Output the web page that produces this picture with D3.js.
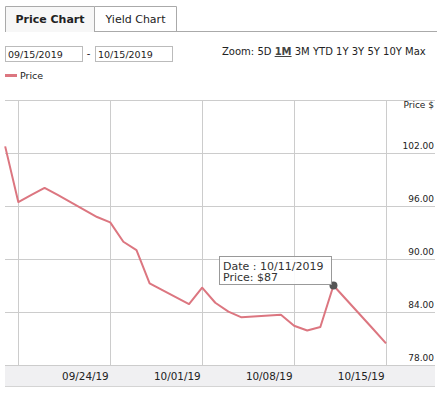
<!DOCTYPE html>
<html>
<head>
<meta charset="utf-8">
<script src="https://cdn.jsdelivr.net/npm/d3@7"></script>
<style>
  body { margin: 0; background: #fff; }
  svg text { font-family: "DejaVu Sans", Verdana, sans-serif; fill: #222; }
</style>
</head>
<body>
<div id="chart"></div>
<script>
// price series (business days)
var dates = ["2019-09-16", "2019-09-17", "2019-09-18", "2019-09-19", "2019-09-20",
  "2019-09-23", "2019-09-24", "2019-09-25", "2019-09-26", "2019-09-27",
  "2019-09-30", "2019-10-01", "2019-10-02", "2019-10-03", "2019-10-04",
  "2019-10-07", "2019-10-08", "2019-10-09", "2019-10-10", "2019-10-11",
  "2019-10-14", "2019-10-15"];
var prices = [102.75, 96.45, 97.25, 98.05, 97.25,
  94.75, 94.15, 91.95, 91.0, 87.25,
  84.9, 86.75, 85.05, 84.05, 83.4,
  83.7, 82.45, 81.9, 82.3, 87.0,
  82.1, 80.45];

var gridDates = ["2019-09-17", "2019-09-24", "2019-10-01", "2019-10-08", "2019-10-15"];
var xLabels = ["", "09/24/19", "10/01/19", "10/08/19", "10/15/19"];
var yTicks = [78, 84, 90, 96, 102, 108];
var zoomOptions = ["5D", "1M", "3M", "YTD", "1Y", "3Y", "5Y", "10Y", "Max"];

var parse = d3.utcParse("%Y-%m-%d");
var data = dates.map(function(d, i) { return { date: parse(d), price: prices[i] }; });

var svgWidth = 445, svgHeight = 398;
var plot = { left: 5, right: 435, top: 100, bottom: 365 };

var svg = d3.select("#chart").append("svg")
  .attr("width", svgWidth)
  .attr("height", svgHeight);

// tabs
svg.append("line").attr("x1", 94).attr("x2", 437).attr("y1", 31.5).attr("y2", 31.5)
  .attr("stroke", "#aaa");
svg.append("path").attr("d", "M5.5,32 V6.5 H94.5 V32").attr("fill", "#f7f7f7").attr("stroke", "#aaa");
svg.append("path").attr("d", "M94.5,6.5 H176.5 V31.5").attr("fill", "none").attr("stroke", "#aaa");
svg.append("text").attr("x", 50).attr("y", 23).attr("text-anchor", "middle")
  .style("font-size", "11px").style("font-weight", "bold").text("Price Chart");
svg.append("text").attr("x", 135.5).attr("y", 23).attr("text-anchor", "middle")
  .style("font-size", "11px").text("Yield Chart");

// date range inputs
[["09/15/2019", 5.5], ["10/15/2019", 95.5]].forEach(function(d) {
  svg.append("rect").attr("x", d[1]).attr("y", 46.5).attr("width", 77).attr("height", 15)
    .attr("fill", "#fff").attr("stroke", "#bbb");
  svg.append("text").attr("x", d[1] + 2.5).attr("y", 58).style("font-size", "9.5px").text(d[0]);
});
svg.append("text").attr("x", 88.5).attr("y", 57).attr("text-anchor", "middle")
  .style("font-size", "10px").text("-");

// zoom selector
var zoomText = svg.append("text").attr("x", 222).attr("y", 55).style("font-size", "10px");
zoomText.append("tspan").text("Zoom:");
zoomOptions.forEach(function(z) {
  var t = zoomText.append("tspan").text(" ");
  var s = zoomText.append("tspan").text(z);
  if (z === "1M") s.style("font-weight", "bold").style("text-decoration", "underline").style("fill", "#444");
});

// legend
svg.append("line").attr("x1", 5).attr("x2", 17).attr("y1", 75.5).attr("y2", 75.5)
  .attr("stroke", "#dc7680").attr("stroke-width", 3);
svg.append("text").attr("x", 20).attr("y", 79).style("font-size", "9.5px").text("Price");

// scales
var xScale = d3.scaleUtc()
  .domain([parse("2019-09-17"), parse("2019-10-15")])
  .range([18.3, 386]);
var yScale = d3.scaleLinear()
  .domain([78, 108])
  .range([plot.bottom, plot.top]);

// x axis band
svg.append("rect").attr("x", plot.left).attr("y", plot.bottom).attr("width", plot.right - plot.left)
  .attr("height", 21).attr("fill", "#f0f0f2");
svg.append("line").attr("x1", plot.left).attr("x2", plot.right).attr("y1", 386.5).attr("y2", 386.5)
  .attr("stroke", "#d4d4d4");

// grid
var chartGroup = svg.append("g");
chartGroup.selectAll(".hgrid").data(yTicks).enter().append("line")
  .attr("x1", plot.left).attr("x2", plot.right)
  .attr("y1", d => Math.round(yScale(d)) + 0.5).attr("y2", d => Math.round(yScale(d)) + 0.5)
  .attr("stroke", "#ccc");
chartGroup.selectAll(".vgrid").data(gridDates).enter().append("line")
  .attr("x1", d => Math.round(xScale(parse(d))) + 0.5).attr("x2", d => Math.round(xScale(parse(d))) + 0.5)
  .attr("y1", plot.top).attr("y2", plot.bottom)
  .attr("stroke", "#ccc");

// y labels
chartGroup.selectAll(".ylab").data(yTicks.filter(d => d < 108)).enter().append("text")
  .attr("x", 434).attr("y", d => yScale(d) - 4)
  .attr("text-anchor", "end").style("font-size", "9px")
  .text(d => d3.format(".2f")(d));
chartGroup.append("text").attr("x", 434).attr("y", 107.5)
  .attr("text-anchor", "end").style("font-size", "9px").text("Price $");

// x labels
chartGroup.selectAll(".xlab").data(gridDates).enter().append("text")
  .attr("x", d => xScale(parse(d)) - 1.5).attr("y", 380)
  .attr("text-anchor", "end").style("font-size", "10.4px")
  .text((d, i) => xLabels[i]);

// price line
var line = d3.line().x(d => xScale(d.date)).y(d => yScale(d.price));
chartGroup.append("path").datum(data)
  .attr("d", line)
  .attr("fill", "none")
  .attr("stroke", "#dc7680")
  .attr("stroke-width", 2)
  .attr("stroke-linejoin", "round");

// hovered point + tooltip
var hover = data[19];
chartGroup.append("circle")
  .attr("cx", xScale(hover.date)).attr("cy", yScale(hover.price))
  .attr("r", 4).attr("fill", "#555");

var tip = chartGroup.append("g").attr("transform", "translate(219.5,256.5)");
tip.append("rect").attr("width", 112).attr("height", 28)
  .attr("fill", "#fff").attr("fill-opacity", 0.9).attr("stroke", "#999");
tip.append("text").attr("x", 3.5).attr("y", 13.5).style("font-size", "11px").style("fill", "#333")
  .text("Date : " + d3.utcFormat("%m/%d/%Y")(hover.date));
tip.append("text").attr("x", 3.5).attr("y", 24.5).style("font-size", "11px").style("fill", "#333")
  .text("Price: $" + hover.price);
</script>
</body>
</html>
